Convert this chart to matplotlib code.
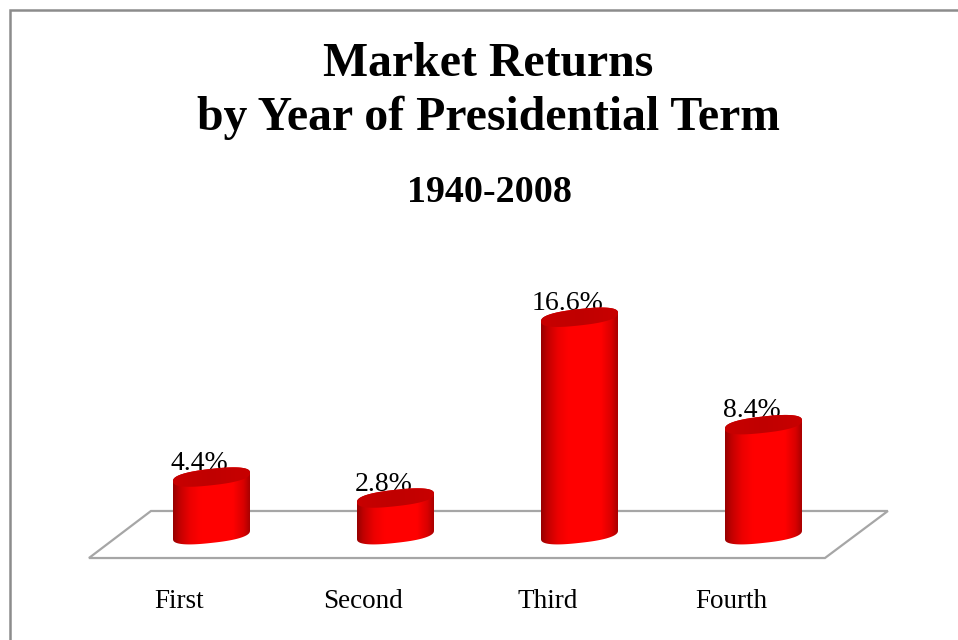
import matplotlib
matplotlib.use('Agg')
import matplotlib.pyplot as plt
from matplotlib.colors import LinearSegmentedColormap
from matplotlib.lines import Line2D
from matplotlib.patches import Polygon
import numpy as np

categories = ['First', 'Second', 'Third', 'Fourth']
returns = [4.4, 2.8, 16.6, 8.4]

W, H = 958, 640
PX_X = 184.0   # pixels per category
PX_Y = 13.1    # pixels per percentage point
X0 = 211.5     # pixel of first category
Y0 = 534.7     # pixel of zero return

A = 38.5 / PX_X   # cylinder half width
B = 8.2 / PX_Y    # ellipse half height
K = 4.2 / PX_Y    # ellipse tilt, right side sits higher
ROUND = 2.5       # superellipse exponent, blunts the ends of the caps

side_cmap = LinearSegmentedColormap.from_list(
    'side', [(0, '#960000'), (0.08, '#c00000'), (0.22, '#ec0000'), (0.36, '#ff0000'),
             (0.78, '#ff0000'), (0.92, '#d80000'), (1, '#a80000')])
top_cmap = LinearSegmentedColormap.from_list('top', ['#c80000', '#c00000', '#c80000'])


def rim(cx, cy, t):
    c, s = np.cos(t), np.sin(t)
    px = np.sign(c) * np.abs(c) ** (2 / ROUND)
    py = np.sign(s) * np.abs(s) ** (2 / ROUND)
    return np.column_stack([cx + A * px, cy + K * px + B * py])


def cylinder(ax, cx, height):
    upper = rim(cx, height, np.linspace(0, np.pi, 81))
    lower = rim(cx, 0, np.linspace(np.pi, 2 * np.pi, 81))
    body = Polygon(np.vstack([upper, lower]), closed=True, transform=ax.transData,
                   fc='none', ec='none')
    ax.add_patch(body)
    grad = np.linspace(0, 1, 256).reshape(1, -1)
    im = ax.imshow(grad, cmap=side_cmap, aspect='auto', zorder=3, interpolation='bilinear',
                   extent=[cx - A, cx + A, -2, height + 2])
    im.set_clip_path(body)

    cap = Polygon(rim(cx, height, np.linspace(0, 2 * np.pi, 161)), closed=True,
                  transform=ax.transData, fc='none', ec='none')
    ax.add_patch(cap)
    im2 = ax.imshow(grad, cmap=top_cmap, aspect='auto', zorder=4, interpolation='bilinear',
                    extent=[cx - A, cx + A, height - 2, height + 2])
    im2.set_clip_path(cap)


def main():
    plt.rcParams['font.family'] = ['Liberation Serif', 'DejaVu Serif']
    fig = plt.figure(figsize=(W / 100, H / 100), dpi=100, facecolor='white')
    ax = fig.add_axes([0, 0, 1, 1])
    ax.axis('off')

    # floor of the 3d plot, drawn in category / percent units
    floor = [(-0.666, -1.78), (-0.329, 1.81), (3.676, 1.81), (3.334, -1.78)]
    ax.add_patch(Polygon(floor, closed=True, fc='white', ec='#a6a6a6', lw=1.6, zorder=1,
                         joinstyle='miter'))

    positions = np.arange(len(categories))
    for x, val, name in zip(positions, returns, categories):
        cylinder(ax, x, val)
        # value label sits behind the cap of the cylinder
        ax.text(x - 0.065, val + 0.55, f'{val:.1f}%', ha='center', va='baseline',
                fontsize=20, color='black', zorder=2)
        ax.text(x - 0.175, -5.6, name, ha='center', va='baseline', fontsize=19.5, color='black')

    ax.set_xlim(-X0 / PX_X, (W - X0) / PX_X)
    ax.set_ylim(-(H - Y0) / PX_Y, Y0 / PX_Y)

    # outer border, top and left only reach the image edge
    fig.add_artist(Line2D([9.5 / W, 9.5 / W, 1], [0, 1 - 10.3 / H, 1 - 10.3 / H],
                          color='#8c8c8c', lw=1.8, solid_joinstyle='miter'))

    fig.text(488.5 / W, 1 - 76 / H, 'Market Returns', ha='center', va='baseline',
             fontsize=34.4, fontweight='bold')
    fig.text(488.5 / W, 1 - 130 / H, 'by Year of Presidential Term', ha='center', va='baseline',
             fontsize=34.4, fontweight='bold')
    fig.text(489 / W, 1 - 202 / H, '1940-2008', ha='center', va='baseline',
             fontsize=27.4, fontweight='bold')

    fig.savefig('out.png', dpi=100)


if __name__ == '__main__':
    main()
